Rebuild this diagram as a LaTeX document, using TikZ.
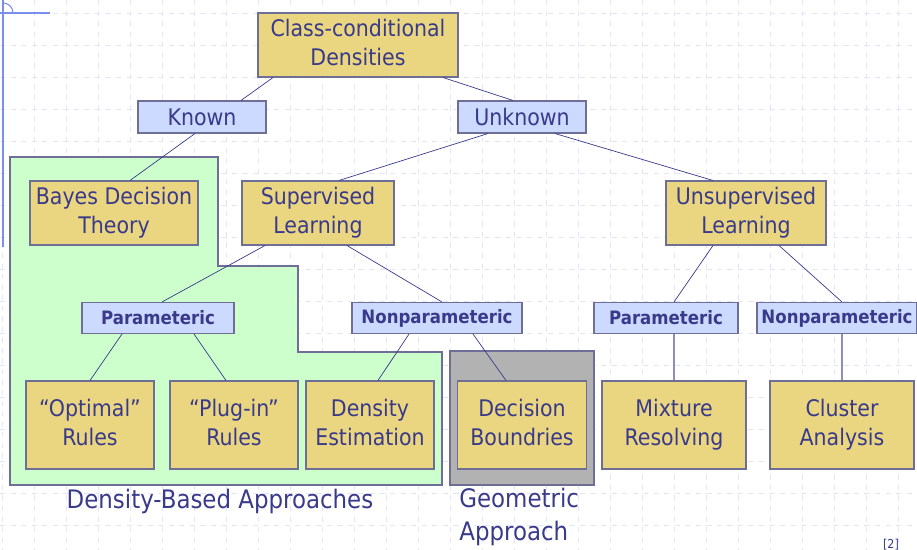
\documentclass[tikz,border=0pt]{standalone}
\usepackage{fontspec}
\setmainfont{DejaVu Sans Condensed}
\definecolor{inkblue}{RGB}{58,58,138}
\definecolor{boxgold}{RGB}{234,214,128}
\definecolor{boxblue}{RGB}{204,218,255}
\definecolor{regiongreen}{RGB}{204,255,204}
\definecolor{regiongray}{RGB}{178,178,178}
\definecolor{edgegray}{RGB}{110,110,150}
\definecolor{gridblue}{RGB}{225,230,250}
\definecolor{cornerblue}{RGB}{122,142,240}
\definecolor{softlink}{RGB}{140,140,190}
\newcommand\topstrut{\rule{0pt}{17.9pt}}
\newcommand\botstrut{\rule[-3.5pt]{0pt}{3.5pt}}
\begin{document}
\begin{tikzpicture}[
    x=0.02cm, y=-0.02cm,
    every node/.style={text=inkblue},
    goldbox/.style={rectangle, draw=edgegray, fill=boxgold, semithick, inner sep=0pt, align=center, font=\fontsize{13}{16.4}\selectfont, minimum height=12.8mm, execute at begin node=\topstrut, execute at end node=\botstrut},
    bluebox/.style={rectangle, draw=edgegray, fill=boxblue, semithick, inner sep=0pt, align=center, font=\fontsize{13}{16.4}\selectfont, minimum height=6.4mm},
    subbox/.style={rectangle, draw=edgegray, fill=boxblue, semithick, inner sep=0pt, font=\fontsize{10.5}{12}\selectfont\bfseries, minimum height=6.2mm},
    leafbox/.style={goldbox, minimum height=17.6mm},
    link/.style={draw=inkblue, thin},
    softlink/.style={draw=softlink, line width=1.2pt}
]
\useasboundingbox (0,0) rectangle (917,550);

% Background grid
\foreach \gx in {2,34,...,930} \draw[gridblue, dashed, line width=0.4pt] (\gx,0) -- (\gx,550);
\foreach \gy in {13,45,...,560} \draw[gridblue, dashed, line width=0.4pt] (0,\gy) -- (917,\gy);

% Slide corner mark
\draw[cornerblue, line width=0.8pt] (0,13) -- (50,13);
\draw[cornerblue, line width=0.8pt] (3,0) -- (3,247);
\draw[cornerblue, line width=0.6pt] (13,13) arc[start angle=0, end angle=-90, radius=10];

% Approach regions
\draw[fill=regiongreen, draw=edgegray, semithick] (10,157) -- (218,157) -- (218,266) -- (298,266) -- (298,352) -- (442,352) -- (442,485) -- (10,485) -- cycle;
\draw[fill=regiongray, draw=edgegray, semithick] (450,351) rectangle (594,485);

% Top levels
\node[goldbox, minimum width=40mm] (cls) at (358,45) {Class-conditional\\Densities};
\node[bluebox, minimum width=25.6mm] (known) at (202,117) {Known};
\node[bluebox, minimum width=25.6mm] (unknown) at (522,117) {Unknown};

% Learning boxes
\node[goldbox, minimum width=33.6mm] (bayes) at (114,213) {Bayes Decision\\Theory};
\node[goldbox, minimum width=30.4mm] (sup) at (318,213) {Supervised\\Learning};
\node[goldbox, minimum width=32mm] (unsup) at (746,213) {Unsupervised\\Learning};

% Parametric / nonparametric
\node[subbox, minimum width=30.4mm] (parL) at (158,318) {Parameteric};
\node[subbox, minimum width=34mm] (nonparL) at (437,318) {Nonparameteric};
\node[subbox, minimum width=28.8mm] (parR) at (666,318) {Parameteric};
\node[subbox, minimum width=32mm] (nonparR) at (837,318) {Nonparameteric};

% Leaves
\node[leafbox, minimum width=25.6mm] (optimal) at (90,425) {``Optimal''\\Rules};
\node[leafbox, minimum width=25.6mm] (plugin) at (234,425) {``Plug-in''\\Rules};
\node[leafbox, minimum width=25.6mm] (densest) at (370,425) {Density\\Estimation};
\node[leafbox, minimum width=25.8mm] (decision) at (522,425) {Decision\\Boundries};
\node[leafbox, minimum width=28.8mm] (mixture) at (674,425) {Mixture\\Resolving};
\node[leafbox, minimum width=28.8mm] (cluster) at (842,425) {Cluster\\Analysis};

% Connectors
\draw[link] ([xshift=-17mm]cls.south) -- ([xshift=7.8mm]known.north);
\draw[link] ([xshift=17mm]cls.south) -- ([xshift=-1.8mm]unknown.north);
\draw[link] ([xshift=-1.4mm]known.south) -- ([xshift=3.2mm]bayes.north);
\draw[link] ([xshift=-6.8mm]unknown.south) -- ([xshift=4.2mm]sup.north);
\draw[link] ([xshift=6.6mm]unknown.south) -- ([xshift=-6.6mm]unsup.north);
\draw[link] ([xshift=-10.6mm]sup.south) -- ([xshift=0.8mm]parL.north);
\draw[link] ([xshift=5.8mm]sup.south) -- ([xshift=1mm]nonparL.north);
\draw[link] ([xshift=-7.2mm]parL.south) -- (optimal.north);
\draw[link] ([xshift=7.2mm]parL.south) -- ([xshift=-1.6mm]plugin.north);
\draw[link] ([xshift=-5.6mm]nonparL.south) -- ([xshift=1.6mm]densest.north);
\draw[link] ([xshift=7.2mm]nonparL.south) -- ([xshift=-3.2mm]decision.north);
\draw[link] ([xshift=-6.6mm]unsup.south) -- ([xshift=1.6mm]parR.north);
\draw[link] ([xshift=6.6mm]unsup.south) -- ([xshift=1mm]nonparR.north);
\draw[softlink] (parR.south -| mixture.north) -- (mixture.north);
\draw[softlink] (nonparR.south -| cluster.north) -- (cluster.north);

% Region captions
\node[font=\fontsize{14.5}{18.7}\selectfont] (densitycap) at (220,501) {Density-Based Approaches};
\node[font=\fontsize{14.5}{18.7}\selectfont, align=left, anchor=north west, inner sep=0pt] (geomcap) at (459,488) {Geometric\\Approach};
\node[font=\fontsize{7}{8}\selectfont] (ref) at (891,545) {[2]};
\end{tikzpicture}
\end{document}
